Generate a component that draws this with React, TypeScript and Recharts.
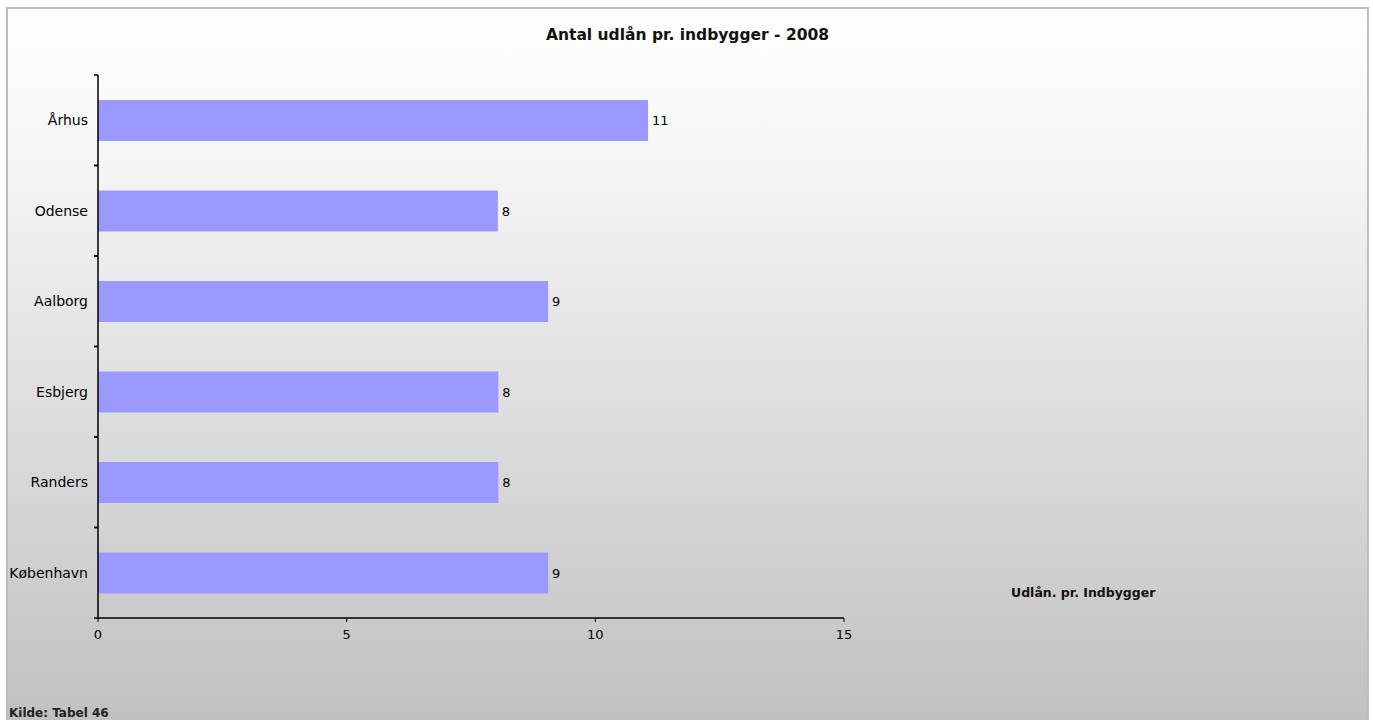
import { BarChart, Bar, XAxis, YAxis, Legend, LabelList } from "recharts";

const cities = ["Århus", "Odense", "Aalborg", "Esbjerg", "Randers", "København"];
const loansPerResident = [11.06, 8.04, 9.05, 8.05, 8.05, 9.05];
const xTicks = [0, 5, 10, 15];

const chartData = cities.map((city, i) => ({
  city,
  value: loansPerResident[i],
}));

const FONT = "'DejaVu Sans', sans-serif";

const CityTick = (props: any) => {
  const { x, y, payload } = props;
  const half = payload.offset ?? 0;
  return (
    <g>
      <line x1={x - 4} x2={x} y1={y - half} y2={y - half} stroke="#000" strokeWidth={1.5} />
      <line x1={x - 4} x2={x} y1={y + half} y2={y + half} stroke="#000" strokeWidth={1.5} />
      <text
        x={x - 10}
        y={y}
        dy={5}
        textAnchor="end"
        fontFamily={FONT}
        fontSize={14}
        fill="#000"
      >
        {payload.value}
      </text>
    </g>
  );
};

const LegendText = () => (
  <div
    style={{
      fontFamily: FONT,
      fontWeight: "bold",
      fontSize: 12.5,
      color: "#111",
      whiteSpace: "nowrap",
    }}
  >
    Udlån. pr. Indbygger
  </div>
);

export default function App() {
  return (
    <div
      style={{
        position: "absolute",
        left: 6,
        top: 7,
        width: 1359,
        height: 720,
        border: "2px solid #bdbdbd",
        background: "linear-gradient(to bottom, #ffffff 0%, #f6f6f6 20%, #c0c0c0 100%)",
      }}
    >
      <div
        style={{
          position: "absolute",
          left: 0,
          right: 0,
          top: 17,
          textAlign: "center",
          fontFamily: FONT,
          fontWeight: "bold",
          fontSize: 15.5,
          color: "#111",
        }}
      >
        Antal udlån pr. indbygger - 2008
      </div>

      <BarChart
        width={1359}
        height={720}
        data={chartData}
        layout="vertical"
        margin={{ top: 66, right: 523, bottom: 81, left: 0 }}
      >
        <XAxis
          type="number"
          domain={[0, 15]}
          ticks={xTicks}
          height={30}
          stroke="#000"
          axisLine={{ stroke: "#000", strokeWidth: 1.5 }}
          tickLine={{ stroke: "#000" }}
          tickSize={4}
          tickMargin={8}
          tick={{ fontFamily: FONT, fontSize: 13, fill: "#000" }}
        />
        <YAxis
          type="category"
          dataKey="city"
          width={90}
          axisLine={{ stroke: "#000", strokeWidth: 1.5 }}
          tickLine={false}
          tickSize={0}
          tickMargin={0}
          tick={<CityTick />}
          interval={0}
        />
        <Legend
          layout="horizontal"
          verticalAlign="middle"
          align="center"
          content={<LegendText />}
          wrapperStyle={{ left: 1003, top: 576, width: "auto" }}
        />
        <Bar dataKey="value" fill="#9999ff" barSize={41} isAnimationActive={false}>
          <LabelList
            dataKey="value"
            position="right"
            offset={4}
            formatter={(v: any) => Math.round(Number(v))}
            style={{ fontFamily: FONT, fontSize: 13, fill: "#000" }}
          />
        </Bar>
      </BarChart>

      <div
        style={{
          position: "absolute",
          left: 1,
          top: 697,
          fontFamily: FONT,
          fontWeight: "bold",
          fontSize: 12,
          color: "#222",
        }}
      >
        Kilde: Tabel 46
      </div>
    </div>
  );
}
